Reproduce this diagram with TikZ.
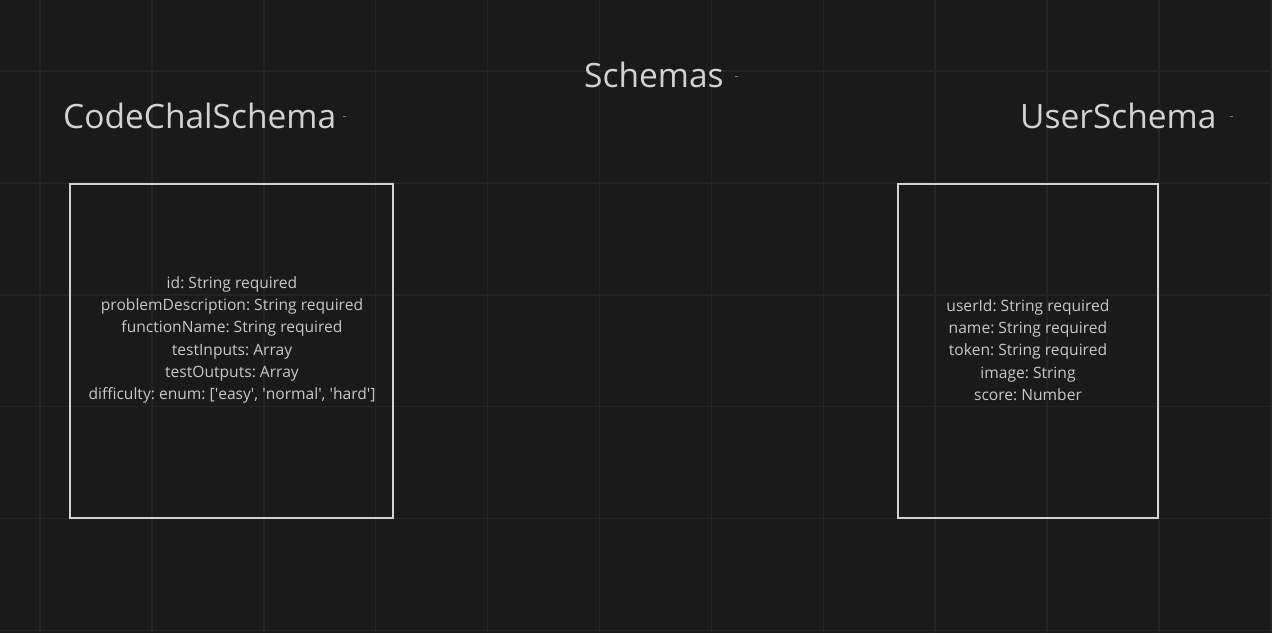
\documentclass[tikz,border=0pt]{standalone}
\usepackage{fontspec}
\setmainfont{Open Sans}
\frenchspacing
\definecolor{canvas}{HTML}{1A1A1A}
\definecolor{gridline}{HTML}{242424}
\definecolor{ink}{HTML}{D2D2D2}
\definecolor{bodyink}{HTML}{C8C8C8}
\definecolor{speck}{HTML}{7A7A7A}
\newcommand{\sq}{\textquotesingle}
\tikzset{
  title/.style={text=ink, font=\fontsize{33.5}{40}\selectfont, inner sep=0pt, anchor=base west},
  schemabox/.style={draw=ink, line width=2pt},
  fields/.style={text=bodyink, font=\fontsize{15.6}{22.3}\selectfont, align=center, inner sep=0pt},
  dot/.style={fill=speck, draw=none}
}
\begin{document}
\begin{tikzpicture}[x=1pt,y=-1pt]
  % canvas and background grid
  \fill[canvas] (0,0) rectangle (1272,633);
  \useasboundingbox (0,0) rectangle (1272,633);
  \foreach \gx in {0,...,11} {
    \draw[gridline, line width=1.5pt] ({40+111.9*\gx},0) -- ({40+111.9*\gx},633);
  }
  \foreach \gy in {0,...,5} {
    \draw[gridline, line width=1.5pt] (0,{71+111.9*\gy}) -- (1272,{71+111.9*\gy});
  }

  % headings
  \node[title] (main) at (584,87) {Schemas};
  \node[title] (codeTitle) at (63,128) {CodeChalSchema};
  \node[title] (userTitle) at (1020,128) {UserSchema};
  \fill[dot] (734.5,75.5) rectangle (737.5,77);
  \fill[dot] (342.5,115.5) rectangle (345.5,117);
  \fill[dot] (1229.5,115.5) rectangle (1232.5,117);

  % schema boxes
  \draw[schemabox] (70,184) rectangle (393,518);
  \draw[schemabox] (898,184) rectangle (1158,518);
  \node[fields] (codeFields) at (232,340) {id: String required\\
    problemDescription: String required\\
    functionName: String required\\
    testInputs: Array\\
    testOutputs: Array\\
    difficulty: enum: [\sq easy\sq, \sq normal\sq, \sq hard\sq]};
  \node[fields] (userFields) at (1028,350) {userId: String required\\
    name: String required\\
    token: String required\\
    image: String\\
    score: Number};
\end{tikzpicture}
\end{document}
